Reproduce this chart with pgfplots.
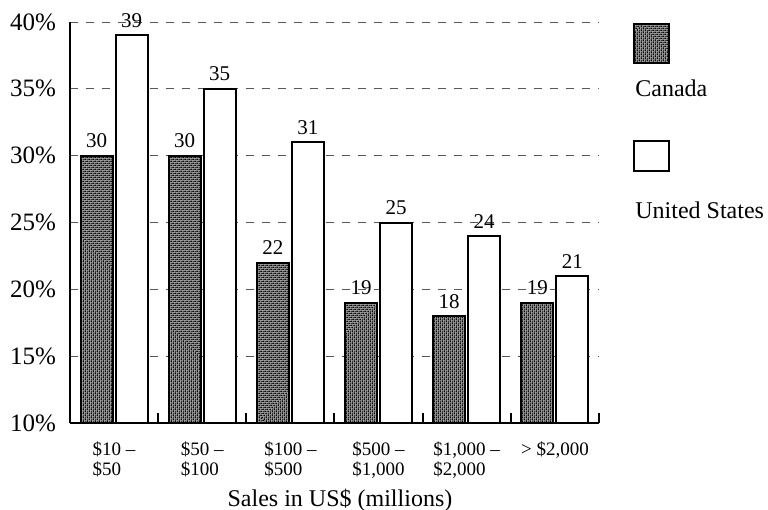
\documentclass[border=0pt]{standalone}
\usepackage{fontspec}
\setmainfont{Liberation Serif}
\usepackage{pgfplots}
\pgfplotsset{compat=1.18}
\usetikzlibrary{patterns.meta}

% fine diagonal checker used as the dark screen tone
\tikzdeclarepattern{
  name=finecheck,
  type=uncolored,
  bottom left={(0pt,0pt)},
  top right={(1.6pt,1.6pt)},
  tile size={(1.6pt,1.6pt)},
  tile transformation={rotate=45},
  code={
    \fill (0pt,0pt) rectangle (0.8pt,0.8pt);
    \fill (0.8pt,0.8pt) rectangle (1.6pt,1.6pt);
  }
}

\tikzset{
  canada/.style={draw=black, line width=1pt, fill=gray!75,
    postaction={pattern=finecheck, pattern color=black}},
  usa/.style={draw=black, line width=1pt, fill=white},
}

\begin{document}
\begin{tikzpicture}
\begin{axis}[
  name=ax,
  scale only axis,
  width=264.5pt, height=200.5pt,
  xmin=-0.5, xmax=5.5,
  ymin=10, ymax=40,
  ybar=1.5pt, bar width=16pt,
  axis x line=bottom, axis y line=left,
  axis line style={-, line width=1.2pt},
  xtick={-0.5,0.5,...,5.5},
  x tick label as interval,
  xticklabels={{\$10 \textendash\\\$50},{\$50 \textendash\\\$100},{\$100 \textendash\\\$500},
    {\$500 \textendash\\\$1,000},{\$1,000 \textendash\\\$2,000},{\textgreater\ \$2,000}},
  xticklabel style={font=\fontsize{9.5}{10}\selectfont, align=left, yshift=-6pt},
  major x tick style={draw=black, line width=1pt},
  major tick length=5pt,
  tick align=inside,
  ytick={10,15,...,40},
  major y tick style={draw=none},
  yticklabel={\pgfmathprintnumber{\tick}\%},
  yticklabel style={font=\fontsize{12.5}{14}\selectfont, xshift=-3.5pt},
  /pgf/number format/assume math mode=true,
  ymajorgrids,
  grid style={gray!70!black, line width=0.5pt, dash pattern=on 4pt off 4pt},
  xlabel={Sales in US\$ (millions)},
  xlabel style={font=\fontsize{12}{14}\selectfont, at={(rel axis cs:0.5,0)},
    anchor=base, yshift=-41.5pt, xshift=2.75pt},
  nodes near coords,
  every node near coord/.append style={font=\fontsize{10.5}{12}\selectfont, black},
]
% Canada
\addplot[canada] coordinates {(0,30) (1,30) (2,22) (3,19) (4,18) (5,19)};
% United States
\addplot[usa] coordinates {(0,39) (1,35) (2,31) (3,25) (4,24) (5,21)};
\end{axis}

% legend
\draw[canada] (282pt,180pt) rectangle (299.5pt,199.5pt);
\node[anchor=west, inner sep=0pt, font=\fontsize{12}{14}\selectfont] at (282.5pt,167.5pt) {Canada};
\draw[usa] (282pt,126pt) rectangle (299.5pt,141pt);
\node[anchor=west, inner sep=0pt, font=\fontsize{12}{14}\selectfont] at (282.5pt,106.5pt) {United States};

\pgfresetboundingbox
\useasboundingbox (-35pt,-43.5pt) rectangle (349pt,211.5pt);
\end{tikzpicture}
\end{document}
